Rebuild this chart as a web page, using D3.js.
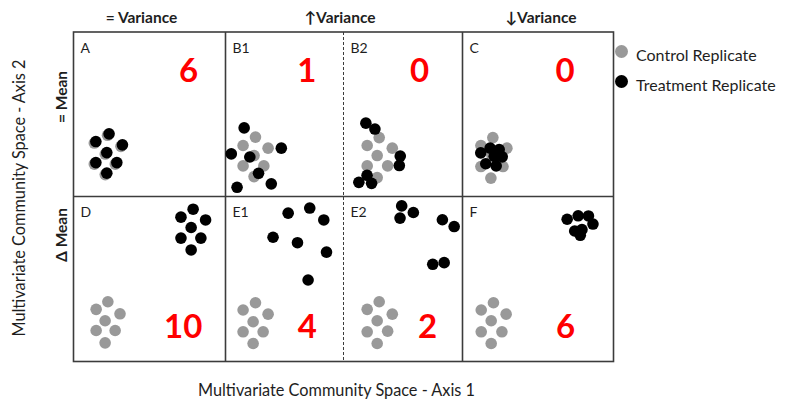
<!DOCTYPE html>
<html>
<head>
<meta charset="utf-8">
<title>Community shift diagram</title>
<style>
  body { margin: 0; background: #fff; }
  text { font-family: Lato, "Open Sans", sans-serif; }
</style>
<script src="https://d3js.org/d3.v7.min.js"></script>
</head>
<body>
<script>
// ---- data ----
var panelNames = ["A", "B1", "B2", "C", "D", "E1", "E2", "F"];
var counts = [6, 1, 0, 0, 10, 4, 2, 6];
var columnLabels = ["= Variance", "\u2191Variance", "\u2193Variance"];
var rowLabels = ["= Mean", "\u0394 Mean"];
var legendLabels = ["Control Replicate", "Treatment Replicate"];

// replicate positions in each panel, percent of panel width / height (axis 1, axis 2)
var controlPts = [
  [[22.4,37.2],[13.7,32.5],[31.2,30.5],[20.9,25.8],[13.7,19.7],[27.5,19.7],[20.9,13.3]],
  [[25.4,36.1],[14.9,31.0],[36.1,29.4],[24.2,24.9],[14.9,18.6],[32.5,18.6],[24.2,12.1]],
  [[30.0,35.8],[19.9,31.0],[41.0,29.4],[28.3,24.9],[19.9,18.6],[37.1,18.6],[28.3,11.5]],
  [[20.1,35.8],[12.2,31.0],[29.4,29.4],[19.5,24.9],[12.2,18.2],[26.8,18.2],[18.8,11.2]],
  [[22.6,36.2],[14.9,31.6],[30.6,28.9],[20.8,24.7],[14.9,18.8],[27.4,18.8],[20.8,11.3]],
  [[25.4,35.6],[14.9,31.2],[36.1,28.7],[23.4,24.1],[14.9,18.0],[31.9,18.0],[23.4,10.9]],
  [[30.0,36.2],[19.9,31.6],[41.0,28.7],[28.3,24.7],[19.9,18.0],[37.1,18.4],[28.3,10.9]],
  [[20.5,35.6],[12.4,31.2],[28.9,28.7],[19.0,24.7],[12.4,18.0],[26.1,18.0],[19.0,10.9]]
];
var treatmentPts = [
  [[23.4,38.1],[14.7,33.4],[32.2,31.4],[21.9,26.7],[14.7,20.6],[28.5,20.6],[21.9,14.2]],
  [[15.8,41.7],[4.9,25.9],[20.6,24.0],[47.3,29.4],[28.0,14.1],[38.8,7.7],[9.8,5.6]],
  [[18.8,44.6],[26.4,41.0],[47.7,24.6],[46.9,18.8],[19.8,12.9],[12.9,8.6],[23.6,8.0]],
  [[18.3,29.4],[24.3,28.5],[12.1,26.5],[21.0,24.4],[26.3,24.1],[15.4,19.9],[22.3,18.6]],
  [[78.7,92.3],[70.7,87.5],[86.9,85.8],[77.4,81.2],[70.7,74.8],[83.8,74.8],[77.4,67.6]],
  [[53.1,89.9],[71.4,93.0],[83.3,85.8],[40.3,75.3],[61.0,72.0],[85.6,66.3],[70.0,49.4]],
  [[48.9,94.3],[58.7,90.3],[47.5,86.9],[83.1,85.9],[93.0,81.8],[75.0,58.9],[84.6,59.9]],
  [[69.3,86.2],[76.6,88.3],[83.4,88.2],[86.4,83.3],[74.3,79.1],[79.1,79.9],[78.0,76.5]]
];

// ---- layout ----
var w = 786, h = 400;
var colEdges = [73.5, 225.5, 343.5, 462.5, 613.5];
var rowEdges = [32, 196.5, 361.5];
var countX = [75.7, 68.9, 63.9, 68.0, 72.2, 69.3, 70.7, 68.2]; // percent of panel width
var countY = [69.8, 14];                                        // percent of panel height, per row
var colLabelX = [141.5, 340, 541];
var rowLabelY = [97, 235];
var grey = "#999999";
var lineCol = "#3c3c3c";
var ink = "#1e1e1e";

var svg = d3.select("body").append("svg")
  .attr("width", w)
  .attr("height", h);

// frame
svg.append("rect")
  .attr("x", colEdges[0]).attr("y", rowEdges[0])
  .attr("width", colEdges[4] - colEdges[0])
  .attr("height", rowEdges[2] - rowEdges[0])
  .attr("fill", "none").attr("stroke", lineCol).attr("stroke-width", 1.6);

[1, 2, 3].forEach(function (i) {
  svg.append("line")
    .attr("x1", colEdges[i]).attr("x2", colEdges[i])
    .attr("y1", rowEdges[0]).attr("y2", rowEdges[2])
    .attr("stroke", lineCol)
    .attr("stroke-width", i == 2 ? 1 : 1.6)
    .attr("stroke-dasharray", i == 2 ? "3,2" : null);
});
svg.append("line")
  .attr("x1", colEdges[0]).attr("x2", colEdges[4])
  .attr("y1", rowEdges[1]).attr("y2", rowEdges[1])
  .attr("stroke", lineCol).attr("stroke-width", 1.6);

// panels
panelNames.forEach(function (name, i) {
  var col = i % 4, row = Math.floor(i / 4);
  var x = d3.scaleLinear().domain([0, 100]).range([colEdges[col], colEdges[col + 1]]);
  var y = d3.scaleLinear().domain([0, 100]).range([rowEdges[row + 1], rowEdges[row]]);
  var g = svg.append("g");

  g.append("text")
    .attr("x", colEdges[col] + 7)
    .attr("y", rowEdges[row] + 20.5)
    .attr("font-size", 14)
    .attr("fill", ink)
    .text(name);

  g.selectAll("circle.ctrl")
    .data(controlPts[i])
    .enter().append("circle")
    .attr("class", "ctrl")
    .attr("cx", function (d) { return x(d[0]); })
    .attr("cy", function (d) { return y(d[1]); })
    .attr("r", 5.8)
    .attr("fill", grey);

  g.selectAll("circle.trt")
    .data(treatmentPts[i])
    .enter().append("circle")
    .attr("class", "trt")
    .attr("cx", function (d) { return x(d[0]); })
    .attr("cy", function (d) { return y(d[1]); })
    .attr("r", 5.8)
    .attr("fill", "#000");

  g.append("text")
    .attr("x", x(countX[i]))
    .attr("y", y(countY[row]))
    .attr("text-anchor", "middle")
    .attr("font-size", 33)
    .attr("font-weight", "bold")
    .attr("fill", "#ff0000")
    .text(counts[i]);
});

// column headers
svg.selectAll("text.colLab")
  .data(columnLabels)
  .enter().append("text")
  .attr("class", "colLab")
  .attr("x", function (d, i) { return colLabelX[i]; })
  .attr("y", 23)
  .attr("text-anchor", "middle")
  .attr("font-size", 15.5)
  .attr("font-weight", "bold")
  .attr("fill", ink)
  .text(function (d) { return d; });

// row headers
svg.selectAll("text.rowLab")
  .data(rowLabels)
  .enter().append("text")
  .attr("class", "rowLab")
  .attr("transform", function (d, i) { return "translate(66.5," + rowLabelY[i] + ") rotate(-90)"; })
  .attr("text-anchor", "middle")
  .attr("font-size", 15.5)
  .attr("font-weight", "bold")
  .attr("fill", ink)
  .text(function (d) { return d; });

// axis titles
svg.append("text")
  .attr("x", 336.5).attr("y", 396)
  .attr("text-anchor", "middle")
  .attr("font-size", 16.3)
  .attr("fill", ink)
  .text("Multivariate Community Space - Axis 1");

svg.append("text")
  .attr("transform", "translate(25,198) rotate(-90)")
  .attr("text-anchor", "middle")
  .attr("font-size", 16.3)
  .attr("fill", ink)
  .text("Multivariate Community Space - Axis 2");

// legend
var legend = svg.selectAll("g.legend")
  .data(legendLabels)
  .enter().append("g")
  .attr("class", "legend")
  .attr("transform", function (d, i) { return "translate(621.5," + (51.5 + i * 30) + ")"; });

legend.append("circle")
  .attr("r", 6.5)
  .attr("fill", function (d, i) { return i == 0 ? grey : "#000"; });

legend.append("text")
  .attr("x", 14.5)
  .attr("y", 9)
  .attr("font-size", 16)
  .attr("fill", ink)
  .text(function (d) { return d; });
</script>
</body>
</html>
